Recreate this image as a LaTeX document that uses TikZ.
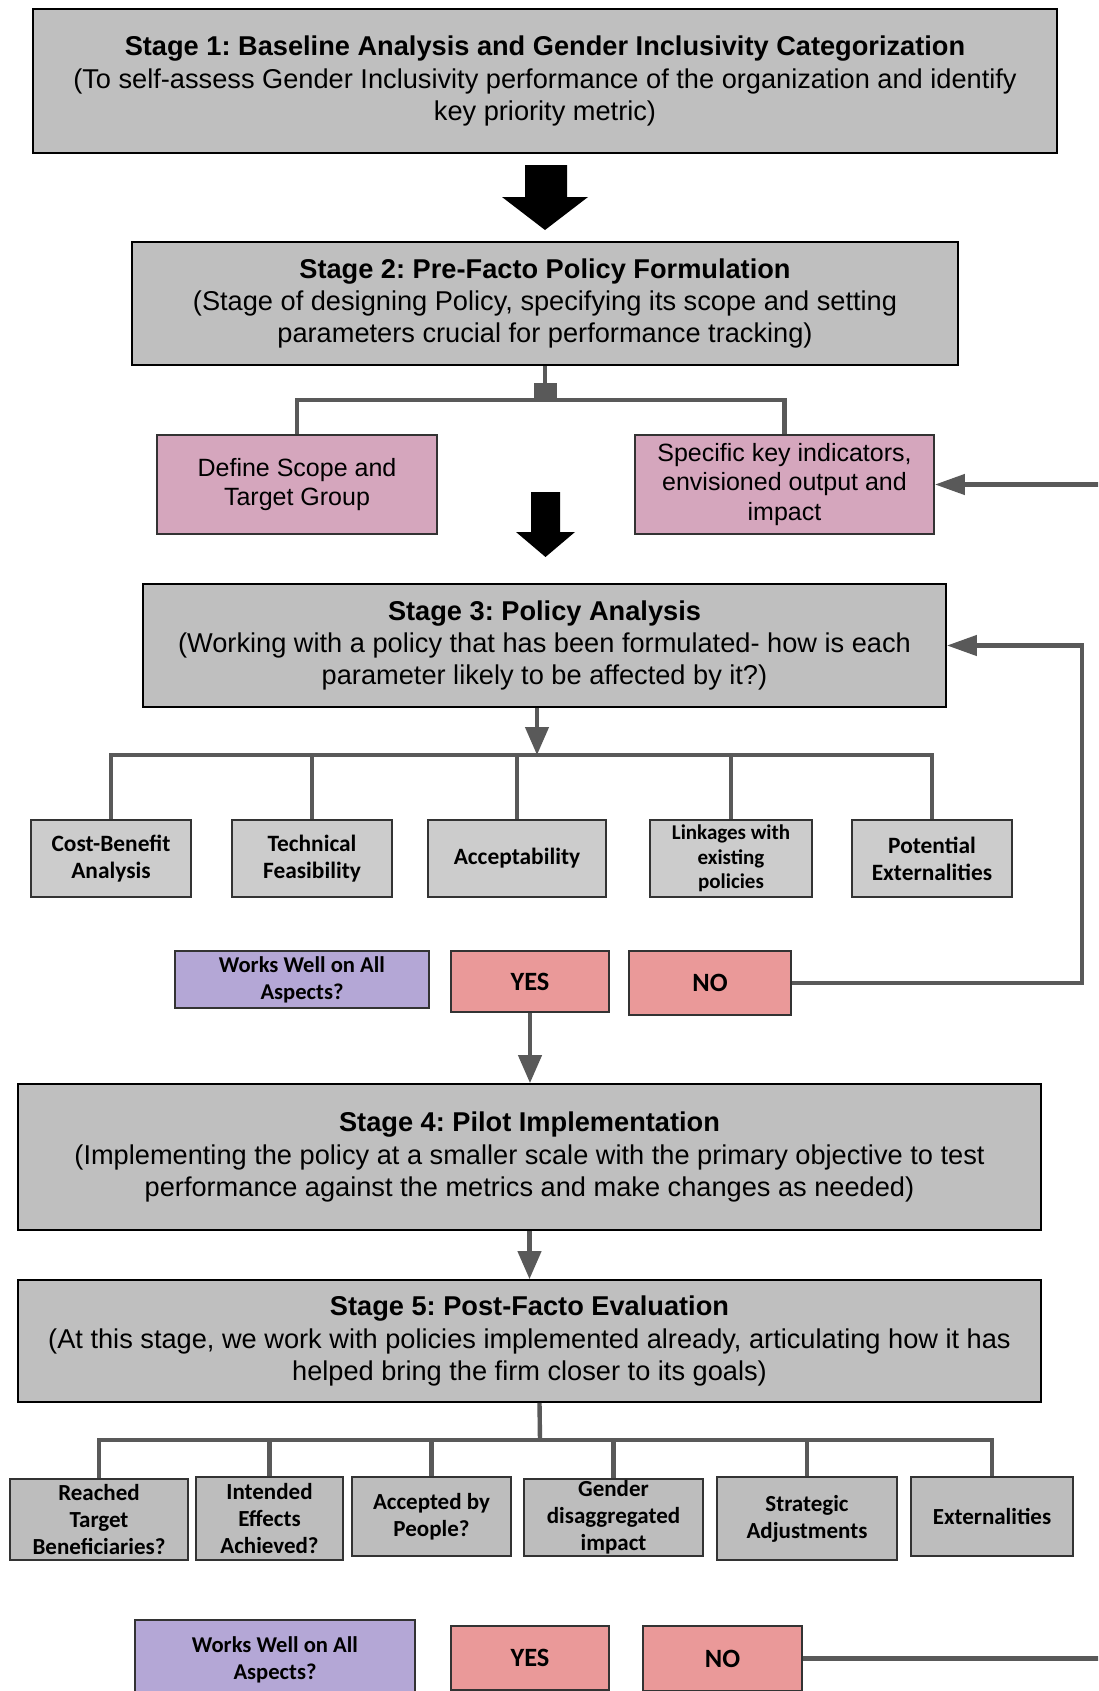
\documentclass[tikz,border=0pt]{standalone}
\usepackage{fontspec}
\setmainfont{Liberation Sans}
\newfontfamily\carl{Carlito}
\usetikzlibrary{arrows.meta}
\frenchspacing
\definecolor{stagegray}{HTML}{BFBFBF}
\definecolor{boxgray}{HTML}{CCCCCC}
\definecolor{boxgrayB}{HTML}{BDBDBD}
\definecolor{pinkbox}{HTML}{D5A6BD}
\definecolor{purplebox}{HTML}{B4A7D6}
\definecolor{redbox}{HTML}{EA9999}
\definecolor{linegray}{HTML}{595959}
\begin{document}
\frenchspacing
\begin{tikzpicture}[x=0.5pt,y=-0.5pt,
  stagebox/.style={draw=black,line width=0.9pt,fill=stagegray,inner sep=0pt,align=center,
    font=\fontsize{13.6}{16.2}\selectfont\frenchspacing},
  pinkstyle/.style={draw=black!80,line width=0.9pt,fill=pinkbox,inner sep=0pt,align=center,
    font=\fontsize{12.5}{14.8}\selectfont},
  subbox/.style={draw=black!80,line width=1pt,fill=boxgray,inner sep=0pt,align=center,
    font=\carl\bfseries\fontsize{11.7}{13.5}\selectfont},
  subboxB/.style={subbox,fill=boxgrayB,font=\carl\bfseries\fontsize{11.5}{13.5}\selectfont},
  askbox/.style={draw=black!80,line width=1pt,fill=purplebox,inner sep=0pt,align=center,
    font=\carl\bfseries\fontsize{11.3}{13.5}\selectfont},
  ansbox/.style={draw=black!80,line width=1pt,fill=redbox,inner sep=0pt,align=center,
    font=\carl\bfseries\fontsize{13.2}{14}\selectfont},
  conn/.style={draw=linegray,line width=2.2pt},
  connarrow/.style={conn,-{Triangle[width=11.5pt,length=14pt]}},
  sidearrow/.style={conn,-{Triangle[width=10pt,length=15pt]}},
  bigarrow/.style={fill=black}
]
\useasboundingbox (0,0) rectangle (1098,1691);
\clip (0,0) rectangle (1098,1691);
\fill[white] (0,0) rectangle (1098,1691);

% Stage 1
\node[stagebox,minimum width=512pt,minimum height=72pt] (s1) at (545,81)
  {\textbf{Stage 1: Baseline Analysis and Gender Inclusivity Categorization}\\
   (To self-assess Gender Inclusivity performance of the organization and identify\\
   key priority metric)};

% big arrow 1
\fill[bigarrow] (525,165) -- (567,165) -- (567,197) -- (588,197) -- (545,230)
  -- (502,197) -- (525,197) -- cycle;

% Stage 2
\node[stagebox,minimum width=413pt,minimum height=61.5pt] (s2) at (545,303.5)
  {\textbf{Stage 2: Pre-Facto Policy Formulation}\\
   (Stage of designing Policy, specifying its scope and setting\\
   parameters crucial for performance tracking)};

\node[pinkstyle,minimum width=140pt,minimum height=49.5pt] (scope) at (297,484.5)
  {Define Scope and\\Target Group};
\node[pinkstyle,minimum width=149.5pt,minimum height=49.5pt] (kpi) at (784.5,484.5)
  {Specific key indicators,\\envisioned output and\\impact};

\coordinate (bus2) at (545,400);
\draw[conn] (s2.south) -- (bus2);
\fill[linegray] (534,383) rectangle (557,402);
\draw[conn] (scope.north) |- (bus2) -| (kpi.north);

\coordinate (loopin) at (1100,484.5);
\draw[sidearrow] (loopin) -- (kpi.east);

% big arrow 2
\fill[bigarrow] (531,492) -- (560,492) -- (560,532) -- (575,532) -- (545.5,557)
  -- (516,532) -- (531,532) -- cycle;

% Stage 3
\node[stagebox,minimum width=401.5pt,minimum height=61.5pt] (s3) at (544.5,645.5)
  {\textbf{Stage 3: Policy Analysis}\\
   (Working with a policy that has been formulated- how is each\\
   parameter likely to be affected by it?)};

\node[subbox,minimum width=80pt,minimum height=38.5pt] (cb) at (111,858.5) {Cost-Benefit\\Analysis};
\node[subbox,minimum width=80pt,minimum height=38.5pt] (tf) at (312,858.5) {Technical\\Feasibility};
\node[subbox,minimum width=89pt,minimum height=38.5pt] (ac) at (517,858.5) {Acceptability};
\node[subbox,minimum width=81pt,minimum height=38.5pt,font=\carl\bfseries\fontsize{10.5}{12.2}\selectfont] (lk) at (731,858.5) {Linkages with\\existing\\policies};
\node[subbox,minimum width=80pt,minimum height=38.5pt] (pe) at (932,858.5) {Potential\\Externalities};

\coordinate (bus3) at (537,755);
\draw[connarrow] (bus3 |- s3.south) -- (bus3);
\draw[conn] (cb.north) |- (bus3) -| (pe.north);
\draw[conn] (tf.north) -- (tf.north |- bus3);
\draw[conn] (ac.north) -- (ac.north |- bus3);
\draw[conn] (lk.north) -- (lk.north |- bus3);

% decision 1
\node[askbox,minimum width=127pt,minimum height=28.5pt] (ask1) at (302,979.5) {Works Well on All\\Aspects?};
\node[ansbox,minimum width=79pt,minimum height=30.5pt] (yes1) at (530,981.5) {YES};
\node[ansbox,minimum width=81pt,minimum height=32pt] (no1) at (710,983) {NO};

\coordinate (loop3) at (1082,983);
\draw[sidearrow] (no1.east) -- (loop3) |- (s3.east);

% Stage 4
\node[stagebox,minimum width=511.5pt,minimum height=73pt] (s4) at (529.5,1157)
  {\textbf{Stage 4: Pilot Implementation}\\
   (Implementing the policy at a smaller scale with the primary objective to test\\
   performance against the metrics and make changes as needed)};
\draw[connarrow] (yes1.south) -- (yes1.south |- s4.north);

% Stage 5
\node[stagebox,minimum width=511.5pt,minimum height=61pt] (s5) at (529.5,1341)
  {\textbf{Stage 5: Post-Facto Evaluation}\\
   (At this stage, we work with policies implemented already, articulating how it has\\
   helped bring the firm closer to its goals)};
\draw[connarrow] (s4.south) -- (s5.north);

\node[subboxB,minimum width=89pt,minimum height=40.5pt] (rt) at (99,1519.5) {Reached\\Target\\Beneficiaries?};
\node[subboxB,minimum width=73.5pt,minimum height=41.5pt] (ie) at (269.5,1518.5) {Intended\\Effects\\Achieved?};
\node[subboxB,minimum width=79.5pt,minimum height=39.5pt] (ap) at (431.5,1516.5) {Accepted by\\People?};
\node[subboxB,minimum width=89.5pt,minimum height=38.5pt] (gd) at (613.5,1517.5) {Gender\\disaggregated\\impact};
\node[subboxB,minimum width=90pt,minimum height=41.5pt] (sa) at (807,1518.5) {Strategic\\Adjustments};
\node[subboxB,minimum width=81pt,minimum height=39.5pt] (ex) at (992,1516.5) {Externalities};

\coordinate (bus5) at (540,1440);
\draw[conn] ([xshift=5pt]s5.south) -- (bus5);
\draw[conn] (rt.north) |- (bus5) -| (ex.north);
\draw[conn] (ie.north) -- (ie.north |- bus5);
\draw[conn] (ap.north) -- (ap.north |- bus5);
\draw[conn] (gd.north) -- (gd.north |- bus5);
\draw[conn] (sa.north) -- (sa.north |- bus5);

% decision 2
\node[askbox,minimum width=140pt,minimum height=40pt] (ask2) at (275,1660) {Works Well on All\\Aspects?};
\node[ansbox,minimum width=79pt,minimum height=32pt] (yes2) at (530,1658) {YES};
\node[ansbox,minimum width=79.5pt,minimum height=32.5pt] (no2) at (722.5,1658.5) {NO};
\coordinate (loopout) at (1100,1658.5);
\draw[conn] (no2.east) -- (loopout);
\end{tikzpicture}
\end{document}
